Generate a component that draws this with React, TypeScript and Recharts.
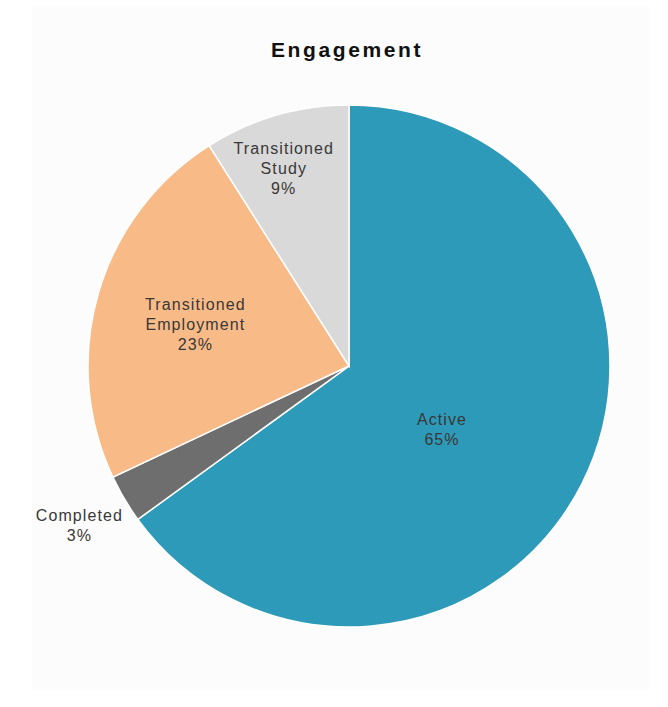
import React from "react";
import { PieChart, Pie, Cell } from "recharts";

const categories = ["Active", "Completed", "Transitioned Employment", "Transitioned Study"];
const values = [65, 3, 23, 9];
const colors = ["#2e9ab9", "#6e6e6e", "#f8bb88", "#d9d9d9"];
const labelRadiusRatio = [0.43, 1.2, 0.61, 0.8];
const labelAngleShift = [-7, 0, 1, 2];
const title = "Engagement";

const data = categories.map((name, i) => ({ name, value: values[i] }));

const RAD = Math.PI / 180;
const FONT = "'Liberation Sans', Arial, Helvetica, sans-serif";

const renderLabel = (props: any) => {
  const { cx, cy, midAngle, outerRadius, percent, index, name } = props;
  const r = outerRadius * labelRadiusRatio[index];
  const a = midAngle + labelAngleShift[index];
  const x = cx + r * Math.cos(-a * RAD);
  const y = cy + r * Math.sin(-a * RAD);
  const words: string[] = String(name).split(" ");
  const lines = [...words, `${Math.round(percent * 100)}%`];
  const lh = 20;
  const startY = y - ((lines.length - 1) * lh) / 2;
  return (
    <text
      x={x}
      y={startY}
      textAnchor="middle"
      dominantBaseline="central"
      fill="#383838"
      fontSize={16}
      letterSpacing={1.1}
      fontFamily={FONT}
    >
      {lines.map((l, i) => (
        <tspan key={i} x={x} y={startY + i * lh}>
          {l}
        </tspan>
      ))}
    </text>
  );
};

export default function App() {
  return (
    <div
      style={{
        position: "absolute",
        left: 0,
        top: 0,
        width: 668,
        height: 707,
        background: "#ffffff",
        overflow: "hidden",
      }}
    >
      <div
        style={{
          position: "absolute",
          left: 32,
          top: 6,
          width: 618,
          height: 684,
          background: "#fcfcfc",
        }}
      />
      <div
        style={{
          position: "absolute",
          left: 0,
          top: 38,
          width: 694,
          textAlign: "center",
          fontFamily: FONT,
          fontWeight: "bold",
          fontSize: 21,
          letterSpacing: 2.6,
          color: "#111",
          lineHeight: "24px",
        }}
      >
        {title}
      </div>
      <div style={{ position: "absolute", left: 0, top: 0 }}>
        <PieChart width={668} height={707} margin={{ top: 0, right: 0, bottom: 0, left: 0 }}>
          <Pie
            data={data}
            dataKey="value"
            nameKey="name"
            cx={349}
            cy={366}
            outerRadius={261}
            startAngle={90}
            endAngle={-270}
            stroke="#ffffff"
            strokeWidth={1.5}
            label={renderLabel}
            labelLine={false}
            isAnimationActive={false}
          >
            {data.map((d, i) => (
              <Cell key={d.name} fill={colors[i]} />
            ))}
          </Pie>
        </PieChart>
      </div>
    </div>
  );
}
